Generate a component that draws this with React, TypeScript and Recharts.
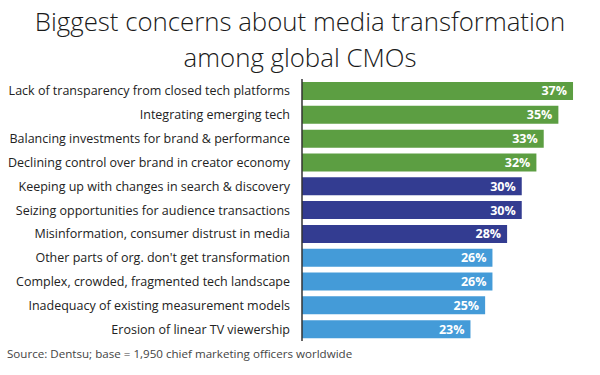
import { BarChart, Bar, XAxis, YAxis, Cell, LabelList } from "recharts";

const concerns = [
  "Lack of transparency from closed tech platforms",
  "Integrating emerging tech",
  "Balancing investments for brand & performance",
  "Declining control over brand in creator economy",
  "Keeping up with changes in search & discovery",
  "Seizing opportunities for audience transactions",
  "Misinformation, consumer distrust in media",
  "Other parts of org. don't get transformation",
  "Complex, crowded, fragmented tech landscape",
  "Inadequacy of existing measurement models",
  "Erosion of linear TV viewership",
];

const shares = [37, 35, 33, 32, 30, 30, 28, 26, 26, 25, 23];

const groups = ["top", "top", "top", "top", "mid", "mid", "mid", "low", "low", "low", "low"];

const groupColors: Record<string, string> = {
  top: "#5c9e42",
  mid: "#333c91",
  low: "#449bd8",
};

const rows = concerns.map((name, i) => ({ name, value: shares[i], group: groups[i] }));

const font = "'Open Sans', sans-serif";

// single-line tick, recharts wraps long labels otherwise
const ConcernTick = (props: any) => {
  const { x, y, payload } = props;
  return (
    <text
      x={x}
      y={y}
      dy={4.5}
      textAnchor="end"
      fontSize={12.5}
      fill="#222"
      fontFamily={font}
    >
      {payload.value}
    </text>
  );
};

export default function App() {
  return (
    <div
      style={{
        position: "absolute",
        left: 0,
        top: 0,
        width: 600,
        height: 375,
        background: "#fff",
        fontFamily: font,
      }}
    >
      <div
        style={{
          position: "absolute",
          top: 3,
          left: 0,
          width: 600,
          textAlign: "center",
          fontSize: 25.8,
          fontWeight: 300,
          lineHeight: "36px",
          color: "#1a1a1a",
        }}
      >
        Biggest concerns about media transformation
        <br />
        among global CMOs
      </div>

      <BarChart
        width={600}
        height={375}
        data={rows}
        layout="vertical"
        margin={{ top: 79, right: 5, bottom: 34, left: 0 }}
        barCategoryGap={3}
      >
        <XAxis type="number" domain={[0, 40]} hide />
        <YAxis
          dataKey="name"
          type="category"
          width={302}
          tickLine={false}
          tickSize={0}
          tickMargin={12}
          axisLine={{ stroke: "#333", strokeWidth: 1.5 }}
          tick={<ConcernTick />}
          interval={0}
        />
        <Bar dataKey="value" barSize={18} isAnimationActive={false}>
          {rows.map((r, i) => (
            <Cell key={i} fill={groupColors[r.group]} />
          ))}
          <LabelList
            dataKey="value"
            position="insideRight"
            offset={6}
            formatter={(v: number) => `${v}%`}
            style={{ fill: "#fff", fontSize: 12.5, fontWeight: 700, fontFamily: font }}
          />
        </Bar>
      </BarChart>

      <div
        style={{
          position: "absolute",
          left: 7,
          top: 346,
          fontSize: 11.6,
          color: "#444",
        }}
      >
        Source: Dentsu; base = 1,950 chief marketing officers worldwide
      </div>
    </div>
  );
}
